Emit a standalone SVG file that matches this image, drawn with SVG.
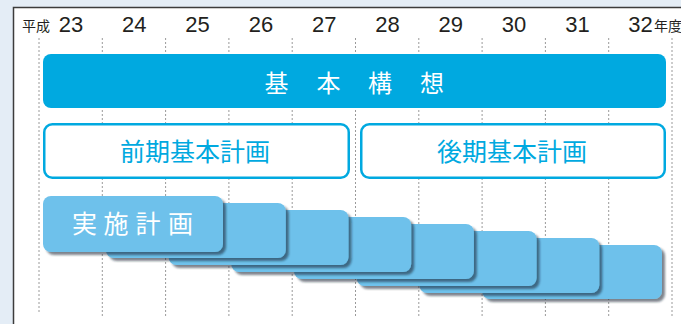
<svg xmlns="http://www.w3.org/2000/svg" width="681" height="324" viewBox="0 0 681 324">
<defs>
<style>
.yr{font-family:"Liberation Sans",Arial,sans-serif;font-size:22px;fill:#231F20;text-anchor:middle}
.sm{font-family:"Noto Sans CJK JP",sans-serif;font-size:14px;fill:#231F20}
.grid{stroke:#9A9A9A;stroke-width:1;stroke-dasharray:2 2;fill:none}
.bar{fill:#00A9E0}
.plan{fill:#FFFFFF;stroke:#00A9E0;stroke-width:2.5}
.impl{fill:#6EC1EB;filter:url(#sh)}
.jw{font-family:"Noto Sans CJK JP",sans-serif;fill:#FFFFFF;text-anchor:middle}
.jb{font-family:"Noto Sans CJK JP",sans-serif;fill:#00A9E0;font-size:25px;text-anchor:middle}
</style>
<filter id="sh" x="-10%" y="-20%" width="130%" height="150%">
<feDropShadow dx="3" dy="3" stdDeviation="1.3" flood-color="#0A2030" flood-opacity="0.55"/>
</filter>
</defs>
<rect x="0" y="0" width="681" height="324" fill="#E4EDF6"/>
<rect x="13.5" y="7.5" width="680" height="330" fill="#FFFFFF" stroke="#3C3C3C" stroke-width="1.5"/>
<g id="axis">
<text class="sm" x="22" y="31">平成</text>
<text class="yr" x="71" y="31.5">23</text>
<text class="yr" x="134.3" y="31.5">24</text>
<text class="yr" x="197.6" y="31.5">25</text>
<text class="yr" x="260.9" y="31.5">26</text>
<text class="yr" x="324.2" y="31.5">27</text>
<text class="yr" x="387.5" y="31.5">28</text>
<text class="yr" x="450.8" y="31.5">29</text>
<text class="yr" x="514.1" y="31.5">30</text>
<text class="yr" x="577.4" y="31.5">31</text>
<text class="yr" x="640.4" y="31.5">32</text>
<text class="sm" x="654" y="31">年度</text>
</g>
<g id="grid">
<line class="grid" x1="39" y1="38" x2="39" y2="313"/>
<line class="grid" x1="102.3" y1="38" x2="102.3" y2="317"/>
<line class="grid" x1="165.6" y1="38" x2="165.6" y2="317"/>
<line class="grid" x1="228.9" y1="38" x2="228.9" y2="317"/>
<line class="grid" x1="292.2" y1="38" x2="292.2" y2="317"/>
<line class="grid" x1="355.5" y1="38" x2="355.5" y2="317"/>
<line class="grid" x1="418.8" y1="38" x2="418.8" y2="317"/>
<line class="grid" x1="482.1" y1="38" x2="482.1" y2="317"/>
<line class="grid" x1="545.4" y1="38" x2="545.4" y2="317"/>
<line class="grid" x1="608.7" y1="38" x2="608.7" y2="317"/>
<line class="grid" x1="672" y1="38" x2="672" y2="317"/>
</g>
<g id="kihon-koso">
<rect class="bar" x="43" y="54" width="623" height="54" rx="8"/>
<text class="jw" font-size="24" x="276.5 328.5 380 432" y="91.5">基本構想</text>
</g>
<g id="zenki">
<rect class="plan" x="44.25" y="124.25" width="304.5" height="53.5" rx="8"/>
<text class="jb" x="195" y="160.5">前期基本計画</text>
</g>
<g id="koki">
<rect class="plan" x="361.25" y="124.25" width="303.5" height="53.5" rx="8"/>
<text class="jb" x="512" y="160.5">後期基本計画</text>
</g>
<g id="jisshi">
<rect class="impl" x="482" y="245" width="180" height="54" rx="8"/>
<rect class="impl" x="419.3" y="238" width="180" height="55" rx="8"/>
<rect class="impl" x="356.6" y="231" width="180" height="55" rx="8"/>
<rect class="impl" x="293.9" y="224" width="180" height="55" rx="8"/>
<rect class="impl" x="231.2" y="217" width="180" height="55" rx="8"/>
<rect class="impl" x="168.5" y="210" width="180" height="55" rx="8"/>
<rect class="impl" x="105.8" y="203" width="180" height="55" rx="8"/>
<rect class="impl" x="43" y="196" width="180" height="56" rx="8"/>
<text class="jw" font-size="25" x="84.5 116 148 180.5" y="232.5">実施計画</text>
</g>
</svg>
